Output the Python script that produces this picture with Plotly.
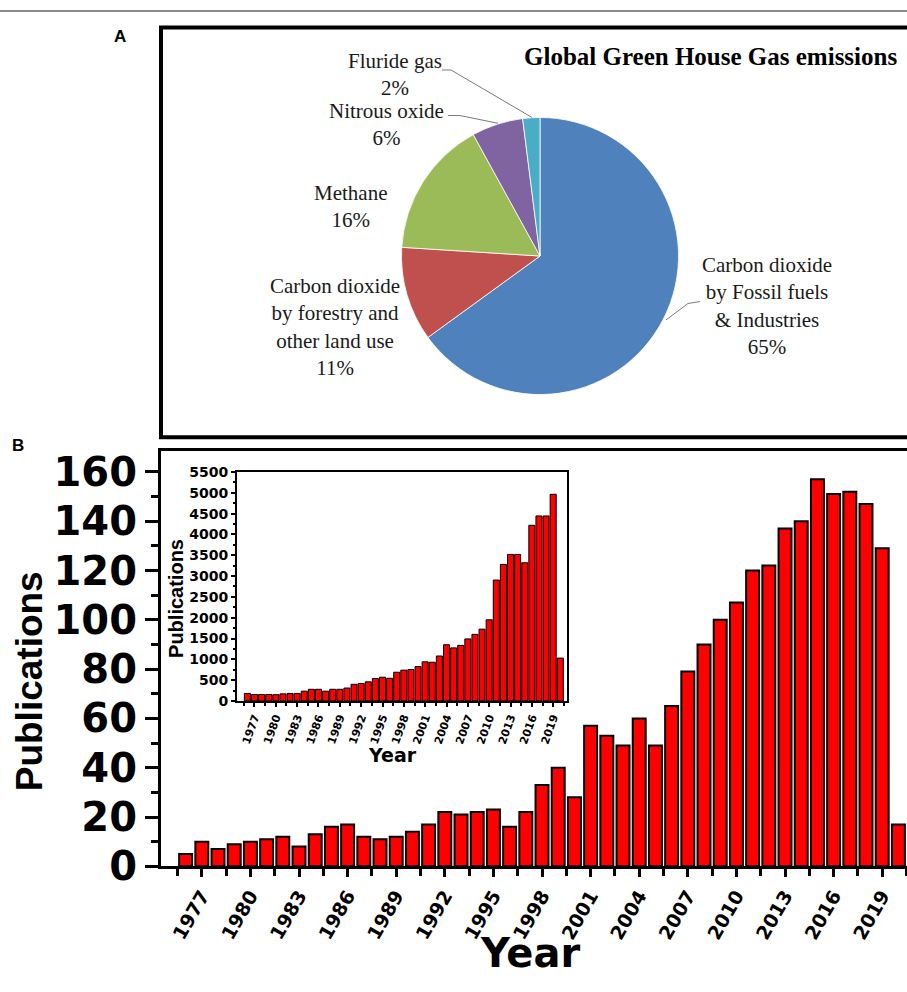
import plotly.graph_objects as go

W, H = 907, 992

def X(px):
    return px / W

def Y(py):
    return 1 - py / H

# ---------------- data ----------------
gas_labels = ["Carbon dioxide by Fossil fuels & Industries",
              "Carbon dioxide by forestry and other land use",
              "Methane", "Nitrous oxide", "Fluride gas"]
gas_share = [65, 11, 16, 6, 2]
gas_colors = ["#4F81BD", "#C0504D", "#9BBB59", "#8064A2", "#4BACC6"]

years = list(range(1976, 2021))
pubs_main = [5, 10, 7, 9, 10, 11, 12, 8, 13, 16, 17, 12, 11, 12, 14, 17, 22, 21, 22, 23,
             16, 22, 33, 40, 28, 57, 53, 49, 60, 49, 65, 79, 90, 100, 107, 120, 122, 137,
             140, 157, 151, 152, 147, 129, 17]
pubs_inset = [180, 155, 155, 155, 150, 170, 180, 180, 235, 280, 280, 235, 280, 280, 310,
              400, 420, 460, 540, 570, 545, 690, 740, 755, 825, 940, 930, 1080, 1350, 1275,
              1335, 1490, 1600, 1725, 1950, 2905, 3280, 3520, 3520, 3320, 4220, 4445, 4445,
              4965, 1030]
tick_years = list(range(1977, 2020, 3))

fig = go.Figure()

# ---------------- panel A: pie ----------------
cx, cy, r = 540, 256, 143
fig.add_trace(go.Pie(
    labels=gas_labels, values=gas_share, sort=False, direction="clockwise",
    rotation=0, textinfo="none", hoverinfo="label+percent",
    marker=dict(colors=gas_colors, line=dict(color="white", width=0.8)),
    domain=dict(x=[X(cx - r), X(cx + r)], y=[Y(cy + r), Y(cy - r)]),
    showlegend=False))

# ---------------- panel B: main bars ----------------
fig.add_trace(go.Bar(
    x=years, y=pubs_main, width=0.8,
    marker=dict(color="#FF0000", line=dict(color="black", width=2)),
    xaxis="x", yaxis="y", showlegend=False))

# ---------------- inset bars ----------------
fig.add_trace(go.Bar(
    x=years, y=pubs_inset, width=0.85,
    marker=dict(color="#FF0000", line=dict(color="black", width=1)),
    xaxis="x2", yaxis="y2", showlegend=False))

sans_bold = "DejaVu Sans"

fig.update_layout(
    width=W, height=H, margin=dict(l=0, r=0, t=0, b=0),
    paper_bgcolor="white", plot_bgcolor="rgba(0,0,0,0)",
    bargap=0.2,
    xaxis=dict(domain=[X(161), 1], range=[1974.48, 2020.53],
               tickmode="array", tickvals=tick_years, ticktext=[str(v) for v in tick_years],
               tickangle=-60, ticks="outside", ticklen=8, tickwidth=3, tickcolor="black",
               minor=dict(tickmode="linear", tick0=1975.5, dtick=1.5, ticks="outside",
                          ticklen=7, tickwidth=3, tickcolor="black"),
               showline=True, linewidth=3, linecolor="black", mirror=True,
               showgrid=False, zeroline=False,
               tickfont=dict(family=sans_bold, size=19, color="black", weight="bold"),
               title=dict(text="")),
    yaxis=dict(domain=[Y(886), Y(457)], range=[0, 168.6],
               tickmode="linear", tick0=0, dtick=20, ticks="outside", ticklen=13,
               tickwidth=3, tickcolor="black",
               minor=dict(tickmode="linear", tick0=0, dtick=10, ticks="outside",
                          ticklen=7, tickwidth=3, tickcolor="black"),
               showline=True, linewidth=3, linecolor="black",
               showgrid=False, zeroline=False,
               tickfont=dict(family=sans_bold, size=40, color="black", weight="bold")),
    xaxis2=dict(domain=[X(236.7), X(566.7)], range=[1974.5, 2020.9], anchor="y2",
                tickmode="array", tickvals=tick_years, ticktext=[str(v) for v in tick_years],
                tickangle=-70, ticks="outside", ticklen=4, tickwidth=1.5, tickcolor="black",
                minor=dict(tickmode="linear", tick0=1975.5, dtick=1.5, ticks="outside",
                           ticklen=3, tickwidth=1.5, tickcolor="black"),
                showline=True, linewidth=1.5, linecolor="black", mirror=True,
                showgrid=False, zeroline=False,
                tickfont=dict(family=sans_bold, size=11, color="black", weight="bold")),
    yaxis2=dict(domain=[Y(715.3), Y(479)], range=[0, 5500], anchor="x2",
                tickmode="linear", tick0=0, dtick=500, ticks="outside", ticklen=4,
                tickwidth=1.5, tickcolor="black",
                minor=dict(tickmode="linear", tick0=0, dtick=250, ticks="outside",
                           ticklen=2, tickwidth=1.5, tickcolor="black"),
                showline=True, linewidth=1.5, linecolor="black", mirror=True,
                showgrid=False, zeroline=False,
                tickfont=dict(family=sans_bold, size=14, color="black", weight="bold")),
)

shapes = []
# top grey rule
shapes.append(dict(type="line", xref="paper", yref="paper", x0=0, x1=1, y0=Y(3), y1=Y(3),
                   line=dict(color="#8a8a8a", width=2)))
# panel A frame
shapes.append(dict(type="rect", xref="paper", yref="paper", x0=X(161), x1=X(915),
                   y0=Y(443), y1=Y(20), line=dict(color="black", width=4)))
# inset white background
shapes.append(dict(type="rect", xref="paper", yref="paper", x0=X(236.7), x1=X(566.7),
                   y0=Y(715.3), y1=Y(479), line=dict(width=0), fillcolor="white", layer="below"))
# pie leader lines
lc = "#7a7a7a"
for (x0, y0, x1, y1) in [(442, 64, 451, 64), (451, 64, 532, 113),
                         (448, 111, 460, 111), (460, 111, 498, 119),
                         (700, 303, 688, 305), (688, 305, 666, 322)]:
    shapes.append(dict(type="line", xref="paper", yref="paper", x0=X(x0), x1=X(x1),
                       y0=Y(y0), y1=Y(y1), line=dict(color=lc, width=1)))
fig.update_layout(shapes=shapes)

serif = "Liberation Serif"
ann = []
def lab(text, x, y, size=20, fam=serif, bold=False, xanchor="center", angle=0, color="#1a1a1a"):
    ann.append(dict(text=text, x=X(x), y=Y(y), xref="paper", yref="paper", showarrow=False,
                    xanchor=xanchor, yanchor="middle", textangle=angle,
                    font=dict(family=fam, size=size, color=color,
                              weight="bold" if bold else "normal")))

lab("Global Green House Gas emissions", 522, 50, size=25, bold=True, xanchor="left", color="black")
lab("Fluride gas<br>2%", 395, 69, size=21)
lab("Nitrous oxide<br>6%", 386, 120, size=21)
lab("Methane<br>16%", 350, 205, size=21)
lab("Carbon dioxide<br>by forestry and<br>other land use<br>11%", 335, 329, size=21)
lab("Carbon dioxide<br>by Fossil fuels<br>&amp; Industries<br>65%", 767, 308, size=21)

lab("A", 120, 29, size=17, fam="Liberation Sans", bold=True, color="black")
lab("B", 18, 452, size=17, fam="Liberation Sans", bold=True, color="black")

lab("Publications", 29, 695, size=37, fam="Liberation Sans", bold=True, angle=-90, color="black")
lab("Year", 530, 975, size=40, fam=sans_bold, bold=True, color="black")
lab("Publications", 176, 610, size=20, fam="Liberation Sans", bold=True, angle=-90, color="black")
lab("Year", 392, 771, size=19, fam=sans_bold, bold=True, color="black")
fig.update_layout(annotations=ann)

fig.write_html("out.html", config={"displayModeBar": False},
               post_script="document.body.style.margin='0';document.body.style.padding='0';"
                           "document.documentElement.style.overflow='hidden';")
